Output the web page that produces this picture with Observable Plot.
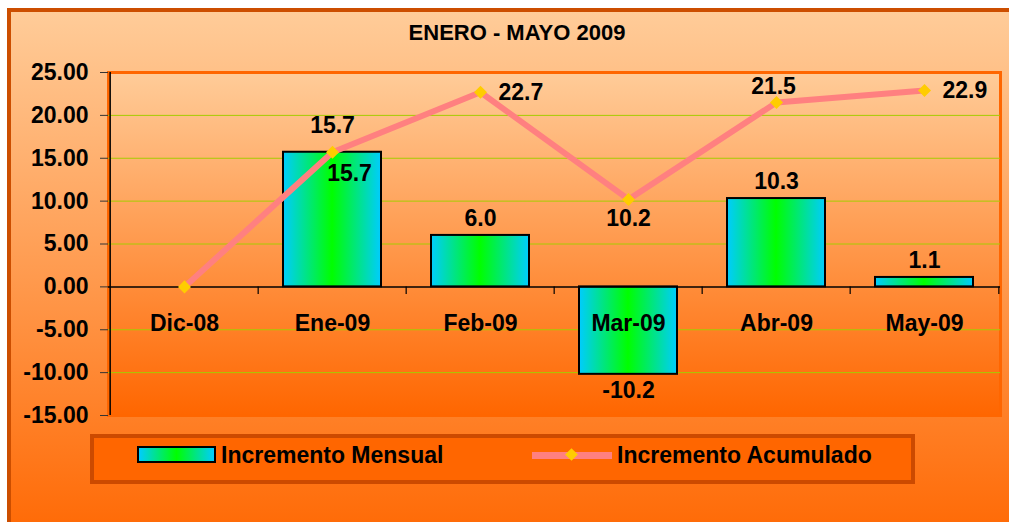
<!DOCTYPE html>
<html>
<head>
<meta charset="utf-8">
<script src="https://cdn.jsdelivr.net/npm/d3@7"></script>
<script src="https://cdn.jsdelivr.net/npm/@observablehq/plot@0.6"></script>
<style>
  body { margin: 0; background: #fff; }
  #chart { position: relative; width: 1009px; height: 522px; overflow: hidden; background: #fff;
           font-family: "Liberation Sans", Arial, sans-serif; font-weight: bold; color: #000; }
  #bg { position: absolute; left: 7px; top: 8px; width: 1010px; height: 540px;
        border-left: 4px solid #cc4e00; border-top: 4px solid #cc4e00;
        background: linear-gradient(to bottom, #ffcc99 0%, #ff6600 100%); }
  #title { position: absolute; left: 0; top: 20px; width: 1034px; text-align: center;
           font-size: 22px; line-height: 26px; }
  #plot { position: absolute; left: 0; top: 0; }
  #legend { position: absolute; left: 90px; top: 434px; width: 817px; height: 42px;
            background: #ff6600; border: 4px solid #cc4a00; }
  .sw-bar { position: absolute; left: 43px; top: 8px; width: 75px; height: 13px;
            border: 2px solid #000; background: linear-gradient(to right, #00ccff, #00ff00, #00ccff); }
  .lt { position: absolute; top: 3px; font-size: 23px; line-height: 28px; white-space: nowrap; }
  .sw-line { position: absolute; left: 438px; top: 14px; width: 80px; height: 7px; background: #ff8080; }
  .sw-dia { position: absolute; left: 473px; top: 12px; width: 9px; height: 9px; background: #ffcc00;
            transform: rotate(45deg); }
</style>
</head>
<body>
<svg width="0" height="0" style="position:absolute">
  <defs>
    <linearGradient id="barGrad" x1="0" x2="1" y1="0" y2="0">
      <stop offset="0%" stop-color="#00ccff"/>
      <stop offset="50%" stop-color="#00ff00"/>
      <stop offset="100%" stop-color="#00ccff"/>
    </linearGradient>
    <linearGradient id="areaGrad" x1="0" x2="0" y1="0" y2="1">
      <stop offset="0%" stop-color="#ffcc99"/>
      <stop offset="100%" stop-color="#ff6600"/>
    </linearGradient>
  </defs>
</svg>
<div id="chart">
  <div id="bg"></div>
  <div id="title">ENERO - MAYO 2009</div>
  <div id="plot"></div>
  <div id="legend">
    <div class="sw-bar"></div>
    <div class="lt" style="left:127px">Incremento Mensual</div>
    <div class="sw-line"></div>
    <div class="sw-dia"></div>
    <div class="lt" style="left:523px">Incremento Acumulado</div>
  </div>
</div>
<script>
// ---- data ----
const categories = ["Dic-08", "Ene-09", "Feb-09", "Mar-09", "Abr-09", "May-09"];
const mensual    = [0, 15.7, 6.0, -10.2, 10.3, 1.1];
const acumulado  = [0, 15.7, 22.7, 10.2, 21.5, 22.9];
const yTicks     = [-15, -10, -5, 0, 5, 10, 15, 20, 25];
const gridTicks  = [-10, -5, 5, 10, 15, 20];

const data = categories.map((c, i) => ({cat: c, mensual: mensual[i], acum: acumulado[i]}));

const W = 1009, H = 522, mL = 108, mR = 9, mT = 72, mB = 107;
const step = (W - mL - mR) / categories.length;
const fmt1 = d => d.toFixed(1);
const only = (...names) => data.filter(d => names.includes(d.cat));

const chart = Plot.plot({
  width: W, height: H,
  marginLeft: mL, marginRight: mR, marginTop: mT, marginBottom: mB,
  style: {background: "transparent", fontFamily: "'Liberation Sans', Arial, sans-serif",
          fontSize: "23px", fontWeight: "bold", color: "#000", overflow: "visible"},
  x: {type: "band", domain: categories, padding: 0, axis: null},
  y: {domain: [-15, 25], axis: null},
  marks: [
    Plot.frame({fill: "url(#areaGrad)", stroke: "#ff6600", strokeWidth: 3}),
    Plot.ruleY(gridTicks, {stroke: "#a6cc00", strokeWidth: 1}),
    Plot.axisY({ticks: yTicks, tickFormat: d => d.toFixed(2), tickSize: 8, tickPadding: 12,
                stroke: "#333", fill: "#000", fontSize: 23, fontWeight: "bold"}),
    Plot.ruleX([categories[0]], {x: d => d, dx: -step / 2, y1: -15, y2: 25, stroke: "#000", strokeWidth: 1.5}),
    Plot.barY(data.filter(d => d.mensual !== 0), {x: "cat", y: "mensual", fill: "url(#barGrad)",
              stroke: "#000", strokeWidth: 2, insetLeft: 25, insetRight: 25}),
    Plot.ruleY([0], {stroke: "#000", strokeWidth: 1.5}),
    Plot.ruleX(categories.slice(1), {x: d => d, dx: -step / 2, y1: 0, y2: -0.9, stroke: "#000", strokeWidth: 1.2}),
    Plot.ruleX([categories[categories.length - 1]], {x: d => d, dx: step / 2, y1: 0, y2: -0.9, stroke: "#000", strokeWidth: 1.2}),
    // category labels on the zero line
    Plot.text(data, {x: "cat", y: 0, text: "cat", dy: 37, fill: "#000"}),
    // bar value labels
    Plot.text(only("Feb-09", "Abr-09", "May-09"), {x: "cat", y: "mensual", text: d => fmt1(d.mensual), dy: -17, fill: "#000"}),
    Plot.text(only("Ene-09"), {x: "cat", y: "mensual", text: d => fmt1(d.mensual), dy: -27, fill: "#000"}),
    Plot.text(data.filter(d => d.mensual < 0), {x: "cat", y: "mensual", text: d => fmt1(d.mensual), dy: 16, fill: "#000"}),
    // accumulated line
    Plot.line(data, {x: "cat", y: "acum", stroke: "#ff8080", strokeWidth: 6}),
    Plot.dot(data, {x: "cat", y: "acum", symbol: "square", rotate: 45, r: 5.2, fill: "#ffcc00", stroke: "none"}),
    Plot.text(only("Ene-09"), {x: "cat", y: "acum", text: d => fmt1(d.acum), dx: 17, dy: 21, fill: "#000"}),
    Plot.text(only("Feb-09", "May-09"), {x: "cat", y: "acum", text: d => fmt1(d.acum), dx: 18, dy: 0, textAnchor: "start", fill: "#000"}),
    Plot.text(only("Mar-09"), {x: "cat", y: "acum", text: d => fmt1(d.acum), dy: 19, fill: "#000"}),
    Plot.text(only("Abr-09"), {x: "cat", y: "acum", text: d => fmt1(d.acum), dx: -3, dy: -16, fill: "#000"})
  ]
});
document.getElementById("plot").appendChild(chart);
</script>
</body>
</html>
